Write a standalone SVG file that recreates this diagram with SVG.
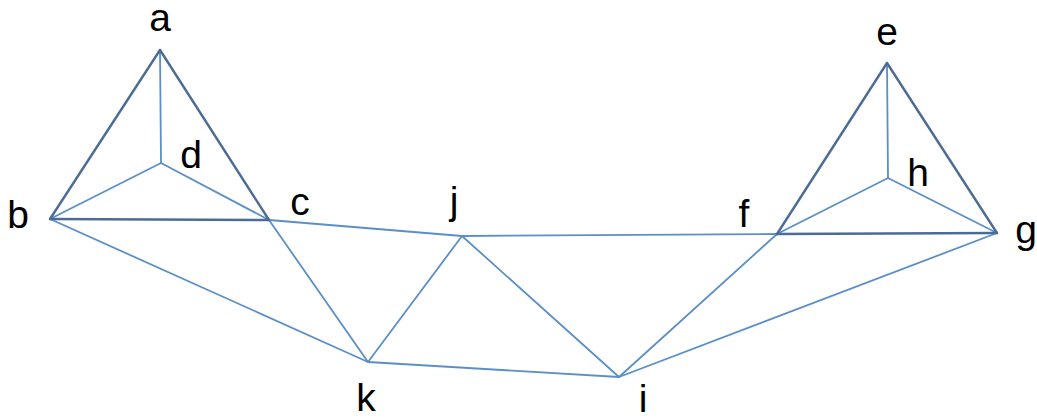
<svg xmlns="http://www.w3.org/2000/svg" width="1037" height="418" viewBox="0 0 1037 418">
<style>
.dk{stroke:#4C6C95;stroke-width:2.4;fill:none;stroke-linecap:round}
.lt{stroke:#5B8FC8;stroke-width:1.8;fill:none;stroke-linecap:round}
text{font-family:"Liberation Sans",Arial,sans-serif;font-size:39px;fill:#000;text-anchor:middle}
</style>
<rect width="1037" height="418" fill="#fff"/>
<g id="connectors">
<line class="lt" x1="160" y1="50" x2="161" y2="163"/>
<line class="lt" x1="50" y1="219" x2="161" y2="163"/>
<line class="lt" x1="161" y1="163" x2="269" y2="220"/>
<line class="lt" x1="887" y1="63" x2="888" y2="178"/>
<line class="lt" x1="777" y1="234" x2="888" y2="178"/>
<line class="lt" x1="888" y1="178" x2="997" y2="233"/>
<line class="lt" x1="50" y1="219" x2="368" y2="362"/>
<line class="lt" x1="269" y1="220" x2="368" y2="362"/>
<line class="lt" x1="269" y1="220" x2="462" y2="236"/>
<line class="lt" x1="462" y1="236" x2="368" y2="362"/>
<line class="lt" x1="462" y1="236" x2="777" y2="234"/>
<line class="lt" x1="462" y1="236" x2="619" y2="377"/>
<line class="lt" x1="368" y1="362" x2="619" y2="377"/>
<line class="lt" x1="777" y1="234" x2="619" y2="377"/>
<line class="lt" x1="997" y1="233" x2="619" y2="377"/>
<line class="dk" x1="160" y1="50" x2="50" y2="219"/>
<line class="dk" x1="160" y1="50" x2="269" y2="220"/>
<line class="dk" x1="50" y1="219" x2="269" y2="220"/>
<line class="dk" x1="887" y1="63" x2="777" y2="234"/>
<line class="dk" x1="887" y1="63" x2="997" y2="233"/>
<line class="dk" x1="777" y1="234" x2="997" y2="233"/>
</g>
<g id="a"><text x="160" y="31">a</text></g>
<g id="b"><text x="18" y="228">b</text></g>
<g id="c"><text x="300" y="215">c</text></g>
<g id="d"><text x="191" y="168">d</text></g>
<g id="e"><text x="887" y="45">e</text></g>
<g id="f"><text x="744" y="227">f</text></g>
<g id="g"><text x="1026" y="243">g</text></g>
<g id="h"><text x="918" y="186">h</text></g>
<g id="i"><text x="643" y="412">i</text></g>
<g id="j"><text x="454" y="214">j</text></g>
<g id="k"><text x="366" y="411">k</text></g>
</svg>
